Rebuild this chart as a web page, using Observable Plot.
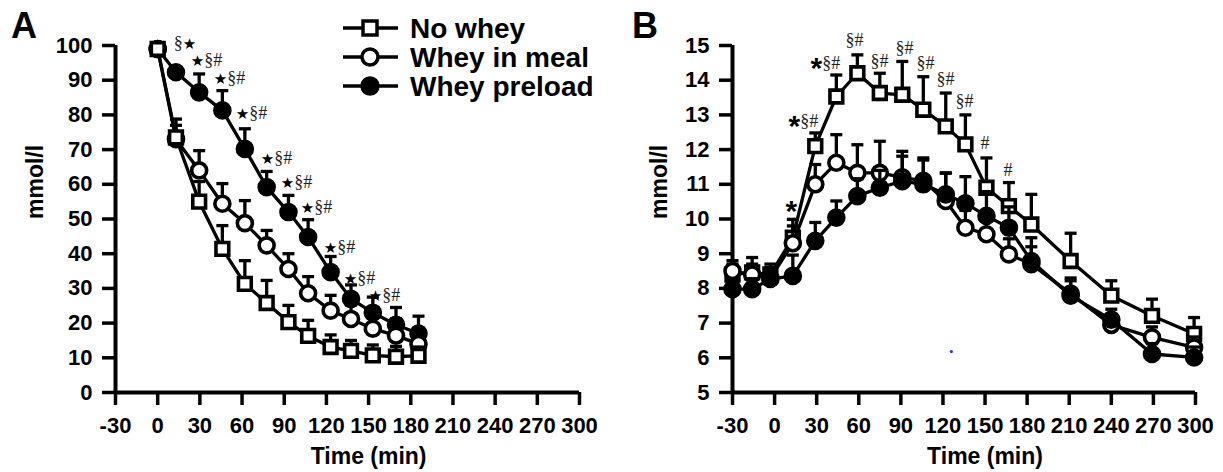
<!DOCTYPE html>
<html><head><meta charset="utf-8">
<script src="https://cdn.jsdelivr.net/npm/d3@7"></script>
<script src="https://cdn.jsdelivr.net/npm/@observablehq/plot@0.6"></script>
<style>
html,body{margin:0;padding:0;background:#fff;}
#wrap{position:relative;width:1223px;height:472px;overflow:hidden;background:#fff;}
#wrap svg{position:absolute;top:0;}
</style></head><body><div id="wrap"></div>
<script>
// ---------- data ----------
const seriesNames = ["No whey", "Whey in meal", "Whey preload"];
const xTicks = [-30, 0, 30, 60, 90, 120, 150, 180, 210, 240, 270, 300];
const yTicksA = [0, 10, 20, 30, 40, 50, 60, 70, 80, 90, 100];
const yTicksB = [5, 6, 7, 8, 9, 10, 11, 12, 13, 14, 15];
const yLabel = "mmol/l";
const xLabel = "Time (min)";

// Panel A
const timesA = [0, 13, 29.5, 46, 62, 77.5, 93, 107, 123, 137.5, 153, 169.5, 185.5];
const noWheyA      = [99, 73.5, 55, 41.4, 31.3, 25.8, 20.3, 16.3, 13.1, 12.0, 10.7, 10.3, 10.6];
const noWheySemA   = [0.8, 5.3, 5.8, 6.7, 6.7, 6.5, 4.8, 4.5, 3.5, 3, 3, 3, 2.5];
const mealA        = [99, 73, 64.0, 54.4, 48.8, 42.4, 35.6, 28.6, 23.6, 21.2, 18.4, 16.4, 14.0];
const mealSemA     = [0.5, 4, 5.7, 5.8, 6.5, 4.3, 4.4, 4.8, 4.4, 4.0, 4.5, 4.8, 4.6];
const preloadA     = [99, 92.3, 86.5, 81.3, 70.2, 59.2, 52.0, 44.8, 34.7, 27.0, 23.0, 19.5, 17.0];
const preloadSemA  = [0.5, 1, 5.3, 5.7, 5.8, 4.5, 4.8, 5, 4.5, 4, 4.5, 5, 5];
const annAx   = [11.4, 23.5, 39.9, 55.5, 73.3, 87.5, 101.8, 118.1, 132.4, 150.2];
const annAy   = [100.6, 95.7, 90.5, 80.4, 67.4, 60.5, 53.3, 41.8, 33.0, 28.0];
const annAtxt = ["§★", "★§#", "★§#", "★§#", "★§#", "★§#", "★§#", "★§#", "★§#", "★§#"];

// Panel B
const timesB = [-30, -16, -3, 13, 29, 44, 59, 75, 91, 106, 122, 136, 151, 167, 183, 211, 240, 269, 299];
const noWheyB     = [8.4, 8.46, 8.4, 9.46, 12.1, 13.53, 14.2, 13.63, 13.58, 13.15, 12.67, 12.15, 10.9, 10.37, 9.84, 8.79, 7.79, 7.21, 6.69];
const noWheySemB  = [0.3, 0.43, 0.3, 0.53, 0.38, 0.62, 0.53, 0.57, 0.96, 0.95, 0.96, 0.85, 0.86, 0.68, 0.87, 0.8, 0.43, 0.48, 0.47];
const mealB       = [8.5, 8.4, 8.3, 9.3, 11.0, 11.62, 11.33, 11.33, 11.2, 11.1, 10.52, 9.75, 9.56, 8.98, 8.7, 7.85, 6.95, 6.59, 6.3];
const mealSemB    = [0.3, 0.3, 0.3, 0.5, 0.57, 0.81, 0.81, 0.91, 0.75, 0.66, 0.8, 0.5, 0.5, 0.45, 0.5, 0.45, 0.3, 0.3, 0.3];
const preloadB    = [7.98, 7.98, 8.27, 8.36, 9.37, 10.04, 10.66, 10.9, 11.09, 11.0, 10.71, 10.45, 10.09, 9.75, 8.79, 7.79, 7.1, 6.11, 6.01];
const preloadSemB = [0.3, 0.3, 0.2, 0.6, 0.53, 0.48, 0.5, 0.5, 0.72, 0.7, 0.62, 0.77, 0.7, 0.6, 0.67, 0.43, 0.3, 0.3, 0.3];
const annBx   = [7.8, 9.9, 25.6, 50.5, 68.4, 86.2, 101.1, 115.4, 128.9, 146.8, 163.2];
const annBy   = [10.37, 12.82, 14.48, 15.15, 14.54, 14.91, 14.48, 14.02, 13.39, 12.18, 11.41];
const annBtxt = ["*", "*§#", "*§#", "§#", "§#", "§#", "§#", "§#", "§#", "#", "#"];
const strayDot = [{t: 126, v: 6.18}];

// ---------- drawing ----------
const FONT = "'Liberation Sans', Arial, sans-serif";
const capSymbol = {draw(ctx, size) { const w = Math.sqrt(size / Math.PI); ctx.moveTo(-w, 0); ctx.lineTo(w, 0); }};
const styles = {
  "No whey":      {symbol: "square", r: 7.2, fill: "white"},
  "Whey in meal": {symbol: "circle", r: 7.5, fill: "white"},
  "Whey preload": {symbol: "circle", r: 7.5, fill: "black"}
};

function seriesMarks(name, times, vals, sems) {
  const rows = times.map((t, i) => ({t, v: vals[i], e: sems[i]}));
  const st = styles[name];
  return [
    Plot.line(rows, {x: "t", y: "v", stroke: "black", strokeWidth: 3.3}),
    Plot.ruleX(rows, {x: "t", y1: "v", y2: d => d.v + d.e, stroke: "black", strokeWidth: 3.3}),
    Plot.dot(rows, {x: "t", y: d => d.v + d.e, symbol: capSymbol, r: 6, stroke: "black", strokeWidth: 3.3, fill: "none"}),
    Plot.dot(rows, {x: "t", y: "v", symbol: st.symbol, r: st.r, fill: st.fill, stroke: "black", strokeWidth: 3.6})
  ];
}

function panel(cfg) {
  const ann = cfg.annX.map((x, i) => ({x, y: cfg.annY[i], s: cfg.annT[i]}));
  const xMid = (xTicks[1] + xTicks[xTicks.length - 1]) / 2;
  return Plot.plot({
    width: cfg.width, height: 472,
    marginLeft: cfg.marginLeft, marginRight: cfg.marginRight, marginTop: 45, marginBottom: 80,
    x: {domain: [xTicks[0], xTicks[xTicks.length - 1]]},
    y: {domain: [cfg.yTicks[0], cfg.yTicks[cfg.yTicks.length - 1]]},
    style: {fontFamily: FONT, fontWeight: "bold", fontSize: "22px", color: "black", background: "transparent", overflow: "visible"},
    marks: [
      Plot.axisX({ticks: xTicks, tickSize: 13, tickPadding: 12, strokeWidth: 3.5, tickFormat: d => String(d), label: null, fontSize: 22, fontWeight: "bold"}),
      Plot.axisY({ticks: cfg.yTicks, tickSize: 13, tickPadding: 10, strokeWidth: 3.5, tickFormat: d => String(d), label: null, fontSize: 22, fontWeight: "bold"}),
      Plot.ruleX([xTicks[0]], {stroke: "black", strokeWidth: 4}),
      Plot.ruleY([cfg.yTicks[0]], {stroke: "black", strokeWidth: 4}),
      Plot.text([yLabel], {text: d => d, frameAnchor: "left", dx: cfg.ylabelDx, rotate: -90, fontSize: 23, fontWeight: "bold"}),
      Plot.text([xLabel], {text: d => d, x: () => xMid, frameAnchor: "bottom", dy: 71, fontSize: 23, fontWeight: "bold"}),
      ...cfg.marks,
      Plot.text(ann, {x: "x", y: "y", text: "s", textAnchor: "start", fontFamily: "'Liberation Serif', 'Times New Roman', serif", fontWeight: "normal", fontSize: 18, fill: "#222"})
    ]
  });
}

function styleStars(svg) {
  svg.querySelectorAll("text").forEach(t => {
    const s = t.textContent;
    if (!/[§#★*]/.test(s)) return;
    t.textContent = "";
    let shift = 0;
    for (const part of s.split(/([★*])/)) {
      if (!part) continue;
      const ts = document.createElementNS("http://www.w3.org/2000/svg", "tspan");
      ts.textContent = part;
      if (part === "★") {
        ts.setAttribute("style", "font-family:'DejaVu Sans',sans-serif;font-size:15px;fill:#000");
      } else if (part === "*") {
        ts.setAttribute("style", "font-family:'Liberation Sans',Arial,sans-serif;font-weight:bold;font-size:30px;fill:#000");
        ts.setAttribute("dy", "9"); shift = 9;
      } else if (shift) {
        ts.setAttribute("dy", String(-shift)); shift = 0;
      }
      t.appendChild(ts);
    }
  });
}

const wrap = document.getElementById("wrap");

const svgA = panel({
  width: 612, marginLeft: 115, marginRight: 33, yTicks: yTicksA, ylabelDx: -80,
  annX: annAx, annY: annAy, annT: annAtxt,
  marks: [
    ...seriesMarks("Whey preload", timesA, preloadA, preloadSemA),
    ...seriesMarks("Whey in meal", timesA, mealA, mealSemA),
    ...seriesMarks("No whey", timesA, noWheyA, noWheySemA)
  ]
});
svgA.style.left = "0px";
styleStars(svgA);
wrap.appendChild(svgA);

const svgB = panel({
  width: 611, marginLeft: 120, marginRight: 28, yTicks: yTicksB, ylabelDx: -73,
  annX: annBx, annY: annBy, annT: annBtxt,
  marks: [
    ...seriesMarks("No whey", timesB, noWheyB, noWheySemB),
    ...seriesMarks("Whey in meal", timesB, mealB, mealSemB),
    ...seriesMarks("Whey preload", timesB, preloadB, preloadSemB),
    Plot.dot(strayDot, {x: "t", y: "v", r: 1.6, fill: "#2233ff"})
  ]
});
svgB.style.left = "612px";
styleStars(svgB);
wrap.appendChild(svgB);

// ---------- overlay: panel letters and legend ----------
const ov = d3.select(wrap).append("svg")
  .attr("width", 1223).attr("height", 472)
  .style("left", "0px").style("pointer-events", "none")
  .style("font-family", FONT).style("font-weight", "bold");
ov.append("text").attr("x", 11).attr("y", 38).attr("font-size", 36).text("A");
ov.append("text").attr("x", 632).attr("y", 38).attr("font-size", 36).text("B");

const lg = ov.append("g");
seriesNames.forEach((name, i) => {
  const y = 28 + i * 29;
  const g = lg.append("g");
  g.append("line").attr("x1", 343).attr("x2", 398).attr("y1", y).attr("y2", y).attr("stroke", "black").attr("stroke-width", 3.5);
  const st = styles[name];
  if (st.symbol === "square") {
    g.append("rect").attr("x", 370 - 7).attr("y", y - 7).attr("width", 14).attr("height", 14)
      .attr("fill", "white").attr("stroke", "black").attr("stroke-width", 3.5);
  } else {
    g.append("circle").attr("cx", 370).attr("cy", y).attr("r", 8)
      .attr("fill", st.fill).attr("stroke", "black").attr("stroke-width", 3.5);
  }
  g.append("text").attr("x", 410).attr("y", y + 10).attr("font-size", 28).text(name);
});
</script>
</body></html>
